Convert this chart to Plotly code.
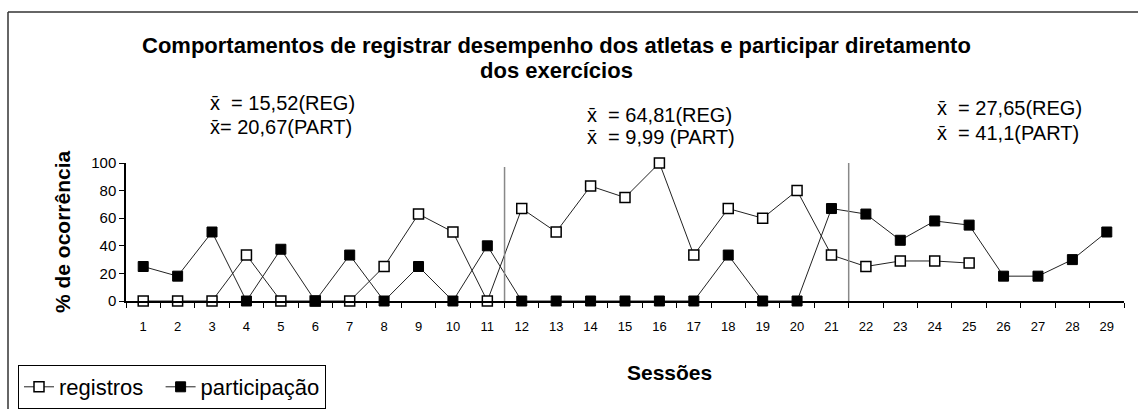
import plotly.graph_objects as go

sessions = [str(i) for i in range(1, 30)]
registros = [0, 0, 0, 33.3, 0, 0, 0, 25, 63, 50, 0, 67, 50, 83.3, 75, 100, 33.3, 67, 60, 80,
             33.3, 25, 29, 29, 27.5, None, None, None, None]
participacao = [25, 18, 50, 0, 37.5, 0, 33.3, 0, 25, 0, 40, 0, 0, 0, 0, 0, 0, 33.3, 0, 0,
                67, 63, 44, 58, 55, 18, 18, 30, 50]
y_ticks = [0, 20, 40, 60, 80, 100]
phase_breaks = [10.5, 20.5]  # category index positions (between 11/12 and 21/22)
means = [
    ("x̄  = 15,52(REG)", "x̄= 20,67(PART)"),
    ("x̄  = 64,81(REG)", "x̄  = 9,99 (PART)"),
    ("x̄  = 27,65(REG)", "x̄  = 41,1(PART)"),
]

W, H = 1138, 409
L, R, T, B = 126, 14, 163, 108
pw, ph = W - L - R, H - T - B


def px(x):
    return (x - L) / pw


def py(y):
    return (H - B - y) / ph


FONT = "Liberation Sans, Arial, sans-serif"

fig = go.Figure()
fig.add_trace(go.Scatter(
    x=sessions, y=registros, name="registros  ", mode="lines+markers",
    line=dict(color="#222", width=1),
    marker=dict(symbol="square", size=10, color="white", line=dict(color="black", width=1.5)),
    cliponaxis=False,
))
fig.add_trace(go.Scatter(
    x=sessions, y=participacao, name="participação", mode="lines+markers",
    line=dict(color="#222", width=1),
    marker=dict(symbol="square", size=10, color="black", line=dict(color="black", width=1)),
    cliponaxis=False,
))

shapes = []
tops = [167, 163]
for xb, tp in zip(phase_breaks, tops):
    shapes.append(dict(type="line", xref="x", yref="paper", x0=xb, x1=xb,
                       y0=0, y1=py(tp), line=dict(color="#888", width=1.5)))
# outer chart border (left and top)
shapes.append(dict(type="line", xref="paper", yref="paper", x0=px(8), x1=px(8),
                   y0=py(409), y1=py(12), line=dict(color="#333", width=1.5)))
shapes.append(dict(type="line", xref="paper", yref="paper", x0=px(8), x1=px(1138),
                   y0=py(12), y1=py(12), line=dict(color="#333", width=1.5)))


def ann(text, x, y, size, xanchor="center", angle=0):
    return dict(text=text, x=px(x), y=py(y), xref="paper", yref="paper",
                xanchor=xanchor, yanchor="middle", showarrow=False, textangle=angle,
                font=dict(size=size, family=FONT, color="black"))


annotations = [
    ann("<b>Comportamentos de registrar desempenho dos atletas e participar diretamento</b>", 556, 45, 22),
    ann("<b>dos exercícios</b>", 556, 71, 22),
    ann("<b>Sessões</b>", 669, 372, 21),
    ann("<b>% de ocorrência</b>", 62, 232, 21, angle=-90),
]
mean_pos = [((208, 103), (208, 127)), ((585, 115), (585, 137)), ((935, 108), (935, 133))]
for (l1, l2), ((x1, y1), (x2, y2)) in zip(means, mean_pos):
    annotations.append(ann(l1, x1, y1, 20, xanchor="left"))
    annotations.append(ann(l2, x2, y2, 20, xanchor="left"))

fig.update_layout(
    width=W, height=H,
    margin=dict(l=L, r=R, t=T, b=B),
    paper_bgcolor="white", plot_bgcolor="white",
    font=dict(family=FONT, color="black"),
    showlegend=True,
    legend=dict(orientation="h", xref="container", yref="container",
                x=18 / W, y=1 - 365 / H, xanchor="left", yanchor="top",
                bordercolor="black", borderwidth=1, bgcolor="white",
                font=dict(size=22, family=FONT, color="black"),
                itemwidth=30, tracegroupgap=0),
    shapes=shapes,
    annotations=annotations,
)
fig.update_xaxes(type="category", range=[-0.5, 28.5], tickson="boundaries",
                 ticks="outside", ticklen=5, tickcolor="black",
                 showline=True, linecolor="black", linewidth=1.5,
                 showgrid=False, zeroline=False, automargin=False,
                 ticklabelstandoff=13,
                 tickfont=dict(size=13, family=FONT, color="black"))
fig.update_yaxes(range=[0, 100], tickvals=y_ticks, ticks="outside", ticklen=5,
                 tickcolor="black", showline=True, linecolor="black", linewidth=1.5,
                 showgrid=False, zeroline=False, automargin=False,
                 tickfont=dict(size=15, family=FONT, color="black"))

fig.write_html("out.html", post_script="document.body.style.margin='0';",
               config={"displayModeBar": False})
